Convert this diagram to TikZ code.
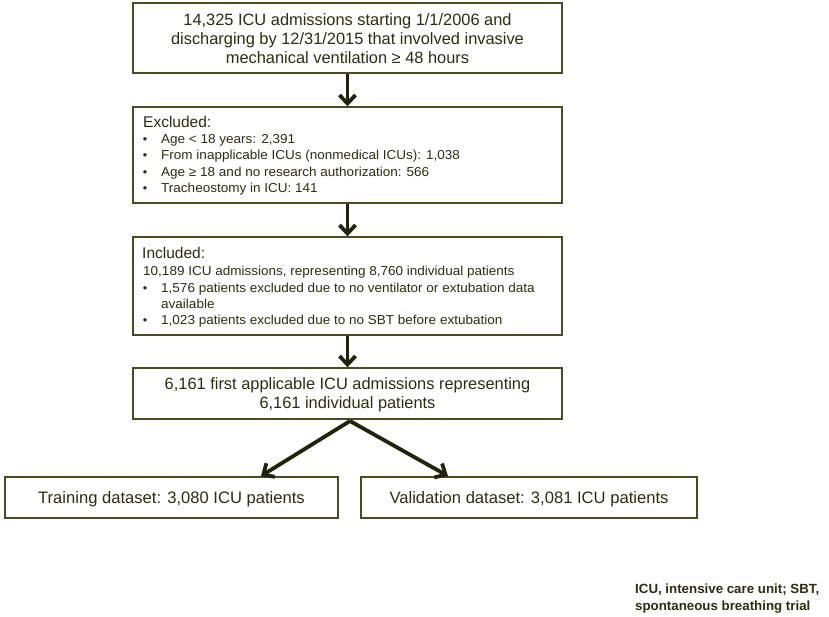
\documentclass[tikz,border=0pt]{standalone}
\usepackage{fontspec}
\setmainfont{Liberation Sans}
\newfontfamily\widesans{Liberation Sans}[FakeStretch=1.04]
\usetikzlibrary{arrows.meta}
\definecolor{txt}{RGB}{45,45,18}
\definecolor{edge}{RGB}{75,75,35}
\definecolor{arr}{RGB}{35,35,12}
\tikzset{
  box/.style={draw=edge, line width=1.4pt, fill=white, inner sep=0pt},
  flowarrow/.style={draw=arr, line width=3.8pt, -{Straight Barb[length=8.5pt,width=16pt]}},
  t16/.style={text=txt, font=\fontsize{16.4}{19}\selectfont, inner sep=0pt},
  tbot/.style={text=txt, font=\fontsize{16.6}{19}\selectfont, inner sep=0pt},
  thead/.style={text=txt, font=\fontsize{15.5}{17}\selectfont, inner sep=0pt, anchor=base west},
  tsmall/.style={text=txt, font=\widesans\fontsize{13}{15}\selectfont, inner sep=0pt, anchor=base west},
  bul/.style={text=txt, font=\fontsize{12.6}{15}\selectfont, inner sep=0pt, anchor=base},
  tnote/.style={text=txt, font=\bfseries\fontsize{13.3}{15}\selectfont, inner sep=0pt, anchor=base west},
}
\begin{document}
\begin{tikzpicture}[x=1pt,y=-1pt]
\useasboundingbox[fill=white] (0,0) rectangle (829,616);
% boxes
\node[box, minimum width=429pt, minimum height=70pt] (b1) at (347.5,38) {};
\node[box, minimum width=429pt, minimum height=96pt] (b2) at (347.5,155) {};
\node[box, minimum width=429pt, minimum height=98pt] (b3) at (347.5,286) {};
\node[box, minimum width=429pt, minimum height=51pt] (b4) at (347.5,393.5) {};
\node[box, minimum width=333pt, minimum height=41pt] (tr) at (171.5,497.5) {};
\node[box, minimum width=336pt, minimum height=41pt] (va) at (529,497.5) {};
% box 1 text
\node[t16, anchor=base] (b1a) at (347.5,25) {14,325 ICU admissions starting 1/1/2006 and};
\node[t16, anchor=base] (b1b) at (347.5,44) {discharging by 12/31/2015 that involved invasive};
\node[t16, anchor=base] (b1c) at (347.5,63) {mechanical ventilation ≥ 48 hours};
% box 2 text
\node[thead] (exh) at (143,127) {Excluded:};
\node[bul] (e1b) at (145,143.3) {•};
\node[tsmall] (e1) at (161,143.3) {Age < 18 years: 2,391};
\node[bul] (e2b) at (145,159.8) {•};
\node[tsmall] (e2) at (161,159.8) {From inapplicable ICUs (nonmedical ICUs): 1,038};
\node[bul] (e3b) at (145,176.3) {•};
\node[tsmall] (e3) at (161,176.3) {Age ≥ 18 and no research authorization: 566};
\node[bul] (e4b) at (145,192.8) {•};
\node[tsmall] (e4) at (161,192.8) {Tracheostomy in ICU: 141};
% box 3 text
\node[thead] (inh) at (142,258) {Included:};
\node[tsmall] (i0) at (143,275) {10,189 ICU admissions, representing 8,760 individual patients};
\node[bul] (i1b) at (145,292) {•};
\node[tsmall] (i1) at (161,292) {1,576 patients excluded due to no ventilator or extubation data};
\node[tsmall] (i1c) at (161,308) {available};
\node[bul] (i2b) at (145,324) {•};
\node[tsmall] (i2) at (161,324) {1,023 patients excluded due to no SBT before extubation};
% box 4 text
\node[t16, anchor=base] (b4a) at (347.5,389) {6,161 first applicable ICU admissions representing};
\node[t16, anchor=base] (b4b) at (347.5,408) {6,161 individual patients};
% bottom boxes text
\node[tbot, anchor=base] (trt) at (171.5,503.5) {Training dataset: 3,080 ICU patients};
\node[tbot, anchor=base] (vat) at (529,503.5) {Validation dataset: 3,081 ICU patients};
% footnote
\node[tnote] (n1) at (635,593) {ICU, intensive care unit; SBT,};
\node[tnote] (n2) at (635,610) {spontaneous breathing trial};
% arrows
\draw[flowarrow] (b1.south) -- (b2.north);
\draw[flowarrow] (b2.south) -- (b3.north);
\draw[flowarrow] (b3.south) -- (b4.north);
\coordinate (split) at (350,421);
\coordinate (tl) at (261,476);
\coordinate (tr2) at (448,476);
\draw[flowarrow] (split) -- (tl);
\draw[flowarrow] (split) -- (tr2);
\end{tikzpicture}
\end{document}
